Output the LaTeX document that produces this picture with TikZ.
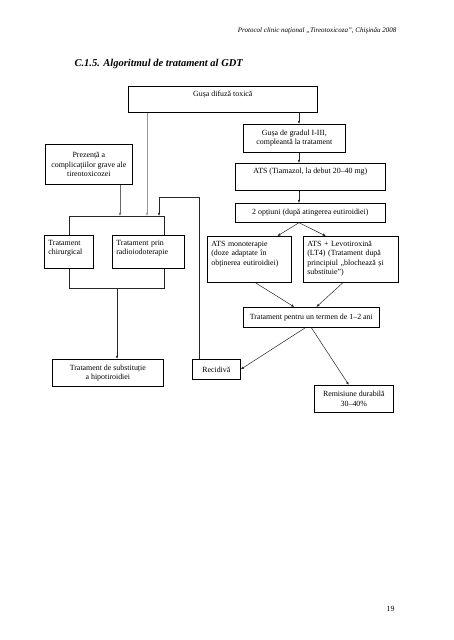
\documentclass[tikz,border=0pt]{standalone}
\usepackage{fontspec}
\setmainfont{Liberation Serif}
\usetikzlibrary{arrows.meta}
\tikzset{%
  >={Latex[width=2.6pt,length=3.2pt]},
  % Specifications for style of nodes:
       base/.style = {rectangle, draw=black, line width=0.7pt,
                      anchor=north west, inner xsep=4pt, inner ysep=4pt,
                      font=\fontsize{7.9}{9.4}\selectfont},
  centerbox/.style = {base, align=center},
    leftbox/.style = {base, align=left},
    toptext/.style = {text height=6pt, text depth=#1},
       link/.style = {->, draw=black!85, line width=0.5pt},
}

\begin{document}
\begin{tikzpicture}[x=1pt, y=-1pt]
\useasboundingbox (0,0) rectangle (453,640);

\node (head)    [anchor=base east, font=\fontsize{7}{8}\selectfont\itshape]
                at (400,32) {Protocol clinic naţional „Tireotoxicoza”, Chişinău 2008};

\node (title)   [anchor=base west, font=\fontsize{10.5}{12}\selectfont\bfseries\itshape]
                at (71,66) {C.1.5. Algoritmul de tratament al GDT};

\node (gusa)    [centerbox, minimum width=189pt, minimum height=26pt, toptext=12pt]
                at (128,86) {Gușa difuză toxică};

\node (grad)    [centerbox, minimum width=102pt, minimum height=28pt]
                at (243,124) {Gușa de gradul I-III,\\compleantă la tratament};

\node (ats)     [centerbox, minimum width=150pt, minimum height=27pt, toptext=13pt]
                at (235,163) {ATS (Tiamazol, la debut 20–40 mg)};

\node (opt)     [centerbox, minimum width=150pt, minimum height=19pt]
                at (235,203) {2 opțiuni (după atingerea eutiroidiei)};

\node (prez)    [centerbox, minimum width=87pt, minimum height=40pt]
                at (45,144) {Prezență a\\complicațiilor grave ale\\tireotoxicozei};

\node (chir)    [leftbox, text width=41pt, toptext=19pt]
                at (44,235) {Tratament\\chirurgical};

\node (radio)   [leftbox, text width=64pt, toptext=19pt]
                at (112,235) {Tratament prin\\radioiodoterapie};

\node (mono)    [leftbox, text width=76pt, toptext=32pt]
                at (207,236) {ATS monoterapie\\(doze adaptate în\\obținerea eutiroidiei)};

\node (plus)    [leftbox, text width=87pt, toptext=32pt]
                at (303,236) {ATS + Levotiroxină\\(LT4) (Tratament după\\principiul „blochează și\\substituie”)};

\node (term)    [centerbox, minimum width=136pt, minimum height=20pt]
                at (243,307) {Tratament pentru un termen de 1–2 ani};

\node (subst)   [centerbox, minimum width=111pt, minimum height=27pt]
                at (52,359) {Tratament de substituție\\a hipotiroidiei};

\node (recid)   [centerbox, minimum width=48pt, minimum height=20pt]
                at (192,359) {Recidivă};

\node (remis)   [centerbox, minimum width=79pt, minimum height=27pt]
                at (314,385) {Remisiune durabilă\\30–40\%};

\node (pagenum) [anchor=base east, font=\fontsize{7.9}{9}\selectfont]
                at (398,611) {19};

% junction points
\coordinate (rx)   at (299,0);
\coordinate (bl)   at (69,216);
\coordinate (br)   at (164,216);
\coordinate (a1)   at (120,216);
\coordinate (a2)   at (147,216);
\coordinate (a3)   at (159,216);
\coordinate (back) at (199,197);
\coordinate (bb)   at (117,288);

\draw[link]             (gusa.south -| rx) -- (grad.north -| rx);
\draw[link]             (grad.south -| rx) -- (ats.north -| rx);
\draw[link]             (ats.south -| rx) -- (opt.north -| rx);
\draw[link]             (opt.south -| rx) -- ([xshift=28pt]mono.north);
\draw[link]             (opt.south -| rx) -- ([xshift=-25pt]plus.north);
\draw[link]             ([xshift=6pt]mono.south) -- ([xshift=-17pt]term.north);
\draw[link]             ([xshift=-8pt]plus.south) -- ([xshift=5pt]term.north);
\draw[link]             ([xshift=-6pt]term.south) -- (recid.east);
\draw[link]             (term.south) -- ([xshift=-5pt]remis.north);

\draw[link, draw=black!40] (gusa.south -| a2) -- (a2);
\draw[link, draw=black!60] (prez.south -| a1) -- (a1);
\draw[link]             (recid.north -| back) -- (back) -- (back -| a3) -- (a3);
\draw[link, -]          (chir.north -| bl) -- (bl) -- (br) -- (radio.north -| br);
\draw[link, -]          (chir.south -| bl) -- (bl |- bb) -- (br |- bb) -- (radio.south -| br);
\draw[link]             (bb) -- (subst.north -| bb);
  \end{tikzpicture}
\end{document}
